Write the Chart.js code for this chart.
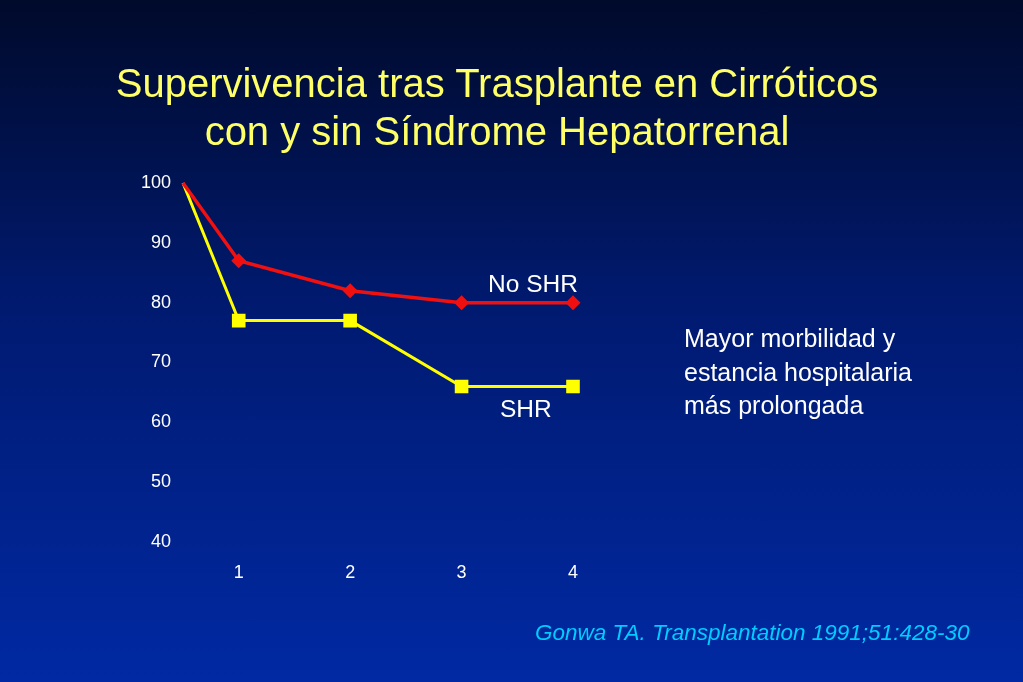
<!DOCTYPE html>
<html>
<head>
<meta charset="utf-8">
<script src="https://cdn.jsdelivr.net/npm/chart.js@4.4.0/dist/chart.umd.min.js"></script>
<style>
  html, body { margin: 0; padding: 0; }
  body {
    width: 1023px; height: 682px; overflow: hidden; position: relative;
    background: linear-gradient(to bottom, #000a2b 0%, #001a70 45%, #0029a3 100%);
    font-family: "Liberation Sans", Arial, sans-serif;
  }
  #wrap { position: absolute; left: 0; top: 0; width: 1023px; height: 682px; }
  .txt { position: absolute; white-space: nowrap; }
  #title { left: 0; width: 994px; top: 59px; text-align: center; color: #ffff66; font-size: 40px; line-height: 48px; }
  #note { left: 684px; top: 322px; color: #fff; font-size: 25px; line-height: 33.5px; }
  #cite { left: 535px; top: 620px; color: #00ccff; font-size: 22.5px; font-style: italic; }
  .lab { color: #fff; font-size: 24.5px; }
</style>
</head>
<body>
<div id="wrap"><canvas id="chart" width="1023" height="682"></canvas></div>
<div id="title" class="txt">Supervivencia tras Trasplante en Cirróticos<br>con y sin Síndrome Hepatorrenal</div>
<div class="txt lab" style="left:488px; top:270px;">No SHR</div>
<div class="txt lab" style="left:500px; top:395px;">SHR</div>
<div id="note" class="txt">Mayor morbilidad y<br>estancia hospitalaria<br>más prolongada</div>
<div id="cite" class="txt">Gonwa TA. Transplantation 1991;51:428-30</div>
<script>
// tiempo (el primer punto es el inicio, 100%)
const tiempos = [0.5, 1, 2, 3, 4];
const noShr = [100, 87, 82, 80, 80];
const shr = [100, 77, 77, 66, 66];
const ticksX = [1, 2, 3, 4];
const ticksY = [40, 50, 60, 70, 80, 90, 100];

const puntos = (vals) => tiempos.map((t, i) => ({ x: t, y: vals[i] }));
const fuenteEje = { family: "'Liberation Sans', Arial, sans-serif", size: 18 };

const ctx = document.getElementById("chart").getContext("2d");
new Chart(ctx, {
  type: "line",
  data: {
    datasets: [
      {
        label: "No SHR",
        data: puntos(noShr),
        borderColor: "#f01010",
        backgroundColor: "#f01010",
        borderWidth: 3.5,
        pointStyle: "rectRot",
        pointRadius: [0, 5, 5, 5, 5],
        clip: false
      },
      {
        label: "SHR",
        data: puntos(shr),
        borderColor: "#ffff00",
        backgroundColor: "#ffff00",
        borderWidth: 3,
        pointStyle: "rect",
        pointRadius: [0, 7.5, 7.5, 7.5, 7.5],
        clip: false
      }
    ]
  },
  options: {
    responsive: false,
    animation: false,
    layout: { padding: { left: 0, right: 450, top: 183, bottom: 90 } },
    plugins: { legend: { display: false }, tooltip: { enabled: false } },
    scales: {
      x: {
        type: "linear",
        min: 0.5,
        max: 4,
        afterFit: (s) => { s.height = 50; },
        afterBuildTicks: (s) => { s.ticks = ticksX.map(v => ({ value: v })); },
        grid: { display: false },
        border: { display: false },
        ticks: { color: "#fff", padding: 12, font: fuenteEje }
      },
      y: {
        min: 40,
        max: 100,
        afterFit: (s) => { s.width = 183; },
        afterBuildTicks: (s) => { s.ticks = ticksY.map(v => ({ value: v })); },
        grid: { display: false },
        border: { display: false },
        ticks: { color: "#fff", padding: 4, font: fuenteEje }
      }
    }
  }
});
</script>
</body>
</html>
